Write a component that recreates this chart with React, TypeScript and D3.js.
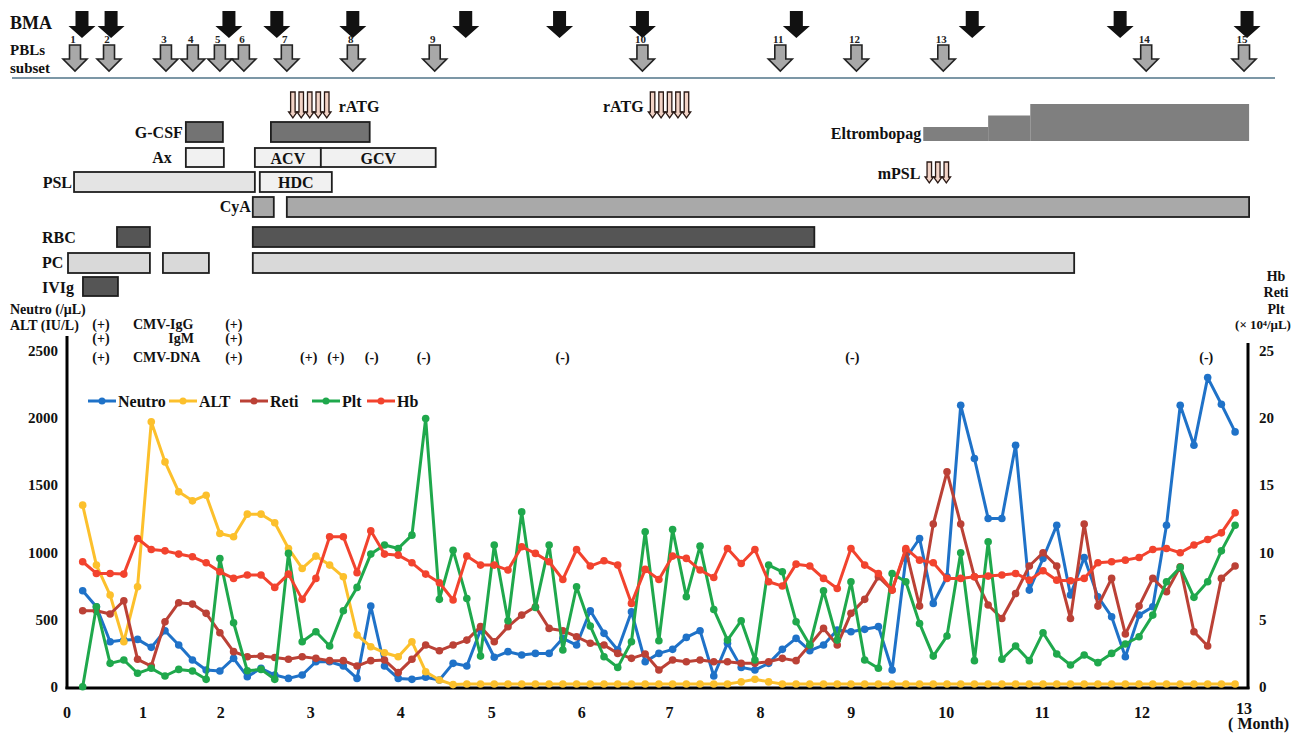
import React from 'react'
import * as d3 from 'd3'

// time axis is in "visit" units: one unit per sampling point on the chart
const monthLabels = ['0', '1', '2', '3', '4', '5', '6', '7', '8', '9', '10', '11', '12', '13']
const monthAt = [-1.14, 4.39, 10.07, 16.63, 23.18, 29.81, 36.37, 42.77, 49.4, 56.03, 62.95, 69.94, 77.22, 84.65]

// Neutro (/uL)
const neutro = [
  716, 597, 337, 349, 354, 295, 419, 312, 201, 126, 119, 213, 77, 139, 89, 64, 89, 188, 188, 156,
  64, 602, 156, 64, 57, 72, 52, 176, 156, 424, 221, 263, 238, 250, 250, 362, 312, 567, 399, 275,
  560, 188, 250, 280, 369, 419, 82, 325, 146, 126, 176, 280, 362, 270, 312, 424, 411, 429, 449, 126,
  956, 1105, 622, 820, 2096, 1700, 1254, 1254, 1799, 721, 956, 1204, 684, 964, 672, 523, 225, 535, 597, 1204,
  2096, 1799, 2302, 2104, 1898,
]
// ALT (IU/L)
const alt = [
  1353, 907, 684, 337, 746, 1973, 1675, 1452, 1385, 1427, 1142, 1118, 1286, 1286, 1222, 1031, 882, 974, 907, 820,
  387, 300, 255, 225, 337, 114, 52, 18, 22, 22, 22, 22, 22, 22, 22, 22, 22, 22, 22, 22,
  22, 22, 22, 22, 22, 22, 22, 22, 38, 58, 38, 22, 22, 22, 22, 22, 22, 22, 22, 22,
  22, 22, 22, 22, 22, 22, 22, 22, 22, 22, 22, 22, 22, 22, 22, 22, 22, 22, 22, 22,
  22, 22, 22, 22, 22,
]
// Reti (x10^4/uL)
const reti = [
  5.67, 5.67, 5.43, 6.42, 2.06, 1.56, 4.86, 6.27, 6.17, 5.48, 4.04, 2.63, 2.25, 2.3, 2.2, 2.06, 2.25, 2.13, 1.96, 1.96,
  1.56, 1.96, 2.01, 1.07, 2.06, 3.12, 2.7, 3.12, 3.49, 4.49, 3.37, 4.49, 5.35, 5.97, 4.36, 4.19, 3.74, 3.25, 3.12, 2.5,
  2.13, 2.45, 1.26, 2.01, 1.88, 2.01, 1.88, 1.88, 1.76, 1.76, 1.88, 2.13, 1.96, 3.12, 4.36, 3.12, 5.48, 6.52, 8.2, 7.21,
  10.18, 6.02, 12.12, 16.01, 12.12, 8.2, 6.1, 5.1, 6.96, 9.0, 9.99, 9.0, 5.1, 12.12, 6.02, 8.08, 3.94, 6.02, 8.08, 7.09,
  8.95, 4.11, 3.05, 8.08, 9.0,
]
// Plt (x10^4/uL)
const plt = [
  0.02, 5.97, 1.76, 2.01, 1.02, 1.39, 0.82, 1.31, 1.19, 0.57, 9.56, 4.78, 1.21, 1.31, 0.57, 9.94, 3.37, 4.11, 3.05, 5.67,
  7.41, 9.89, 10.56, 10.31, 11.3, 19.97, 6.52, 10.18, 6.59, 2.3, 10.56, 4.93, 13.03, 5.92, 10.56, 2.75, 7.46, 4.53, 2.25, 1.46,
  3.37, 11.55, 3.44, 11.72, 6.72, 10.48, 5.77, 3.49, 4.93, 2.01, 9.07, 8.57, 4.86, 3.12, 7.16, 3.49, 7.83, 2.01, 1.39, 8.45,
  7.83, 4.73, 2.3, 3.79, 9.99, 1.96, 10.8, 2.06, 3.05, 1.96, 4.04, 2.45, 1.64, 2.38, 1.81, 2.5, 3.2, 3.74, 5.35, 7.83,
  8.9, 6.67, 7.83, 10.13, 12.04,
]
// Hb (g/dL)
const hb = [
  9.32, 8.45, 8.45, 8.4, 11.05, 10.23, 10.13, 9.89, 9.69, 9.24, 8.57, 8.08, 8.33, 8.33, 7.41, 8.4, 6.52, 8.08, 11.18, 11.18,
  8.5, 11.62, 9.89, 9.81, 9.24, 8.4, 7.76, 6.47, 9.74, 9.07, 9.07, 8.7, 10.43, 9.94, 9.32, 8.0, 10.23, 9.0, 9.39, 9.07,
  6.22, 8.75, 8.0, 9.74, 9.57, 8.7, 8.15, 10.31, 9.19, 10.23, 7.83, 7.51, 9.14, 9.0, 8.08, 7.33, 10.31, 9.07, 8.45, 7.21,
  10.31, 9.44, 9.24, 8.08, 8.08, 8.2, 8.25, 8.33, 8.45, 7.95, 8.65, 7.95, 7.9, 8.08, 9.24, 9.32, 9.44, 9.64, 10.23, 10.31,
  9.99, 10.56, 10.98, 11.47, 12.96,
]

// events on the time axis
const bmaAt = [-0.05, 2.07, 10.66, 14.15, 19.69, 27.92, 34.76, 40.8, 52.02, 64.84, 75.62, 84.87]
const pblAt = [-0.56, 1.92, 6.07, 8.03, 10.0, 11.75, 14.88, 19.69, 25.66, 40.8, 50.85, 56.4, 62.73, 77.52, 84.65]

const ratgDoses1 = [15.32, 15.93, 16.55, 17.17, 17.79]
const ratgDoses2 = [41.54, 42.16, 42.78, 43.39, 44.01]
const mpslDoses = [61.71, 62.33, 62.95]

const gcsfSpans = [[7.52, 10.22], [13.72, 20.92]]
const axSpans = [[7.52, 10.29]]
const antiviralNames = ['ACV', 'GCV']
const antiviralSpans = [[12.55, 17.36], [17.36, 25.73]]
const pslSpans = [[-0.63, 12.55]]
const hdcSpans = [[12.91, 18.16]]
const cyaSpans = [[12.4, 13.93], [14.88, 85.02]]
const rbcSpans = [[2.5, 4.9], [12.4, 53.33]]
const pcSpans = [[-1.07, 4.9], [5.85, 9.2], [12.4, 72.27]]
const ivigSpans = [[0.02, 2.57]]
const eltrombopagSpans = [[61.27, 66.0], [66.0, 69.07], [69.07, 85.02]]
const eltrombopagDose = [12.5, 25, 37.5]

const cmvAt = [1.33, 11.02]
const cmvIgG = ['(+)', '(+)']
const cmvIgM = ['(+)', '(+)']
const cmvDnaAt = [1.33, 11.02, 16.48, 18.45, 21.07, 24.86, 34.98, 56.1, 81.9]
const cmvDna = ['(+)', '(+)', '(+)', '(+)', '(-)', '(-)', '(-)', '(-)', '(-)']

const FONT = "'Liberation Serif', 'Times New Roman', serif"

const x = d3.scaleLinear().domain([-1.143, 84.94]).range([67, 1248])
const yLeft = d3.scaleLinear().domain([0, 2500]).range([687, 351])
const yRight = d3.scaleLinear().domain([0, 25]).range([687, 351])
const doseH = d3.scaleLinear().domain([12.5, 37.5]).range([14, 37])

const series = [
  { name: 'Neutro', values: neutro, y: yLeft, color: '#1f72c8' },
  { name: 'ALT', values: alt, y: yLeft, color: '#fcc02c' },
  { name: 'Reti', values: reti, y: yRight, color: '#bb4136' },
  { name: 'Plt', values: plt, y: yRight, color: '#1fa84c' },
  { name: 'Hb', values: hb, y: yRight, color: '#f2432e' },
]
const legendX = [88, 169, 240, 312, 367]

function downArrow(cx: number, top: number, h: number, shaftW: number, headW: number, headH: number) {
  const p = d3.path()
  p.moveTo(cx - shaftW / 2, top)
  p.lineTo(cx + shaftW / 2, top)
  p.lineTo(cx + shaftW / 2, top + h - headH)
  p.lineTo(cx + headW / 2, top + h - headH)
  p.lineTo(cx, top + h)
  p.lineTo(cx - headW / 2, top + h - headH)
  p.lineTo(cx - shaftW / 2, top + h - headH)
  p.closePath()
  return p.toString()
}

const Bars = ({ spans, top, h, fill, stroke = '#1e1e1e' }: any) => (
  <g>
    {spans.map(([a, b]: number[], k: number) => (
      <rect key={k} x={x(a)} y={top} width={x(b) - x(a)} height={h}
        fill={fill} stroke={stroke} strokeWidth={stroke === 'none' ? 0 : 1.8} />
    ))}
  </g>
)

const Label = ({ x: lx, y: ly, anchor = 'start', size = 16, children }: any) => (
  <text x={lx} y={ly} textAnchor={anchor} fontSize={size} fontWeight="bold" fontFamily={FONT} fill="#111">
    {children}
  </text>
)

export default function App() {
  return (
    <svg width={1291} height={734} style={{ position: 'absolute', left: 0, top: 0, background: '#fff' }}>
      {/* event rows */}
      <Label x={10} y={29} size={18}>BMA</Label>
      <Label x={10} y={55} size={15}>PBLs</Label>
      <Label x={10} y={73} size={15}>subset</Label>
      {bmaAt.map((t, k) => (
        <path key={k} d={downArrow(x(t), 11, 27, 13, 27, 12)} fill="#111" />
      ))}
      {pblAt.map((t, k) => (
        <g key={k}>
          <path d={downArrow(x(t), 45, 26, 11, 24, 12)} fill="#a8a8a8" stroke="#222" strokeWidth={1.6} />
          <text x={x(t) - 2} y={43} textAnchor="middle" fontSize={11} fontWeight="bold" fontFamily={FONT} fill="#222">{k + 1}</text>
        </g>
      ))}
      <line x1={12} x2={1275} y1={78} y2={78} stroke="#7c97a6" strokeWidth={2} />

      {/* treatments */}
      {[...ratgDoses1, ...ratgDoses2].map((t, k) => (
        <path key={k} d={downArrow(x(t), 92, 26, 4.5, 8.5, 6)} fill="#f2d3c6" stroke="#2a1a16" strokeWidth={1.3} />
      ))}
      <Label x={x(ratgDoses1[4]) + 12} y={112}>rATG</Label>
      <Label x={x(ratgDoses2[0]) - 9} y={112} anchor="end">rATG</Label>
      {mpslDoses.map((t, k) => (
        <path key={k} d={downArrow(x(t), 162, 21, 4.5, 8.5, 6)} fill="#f2d3c6" stroke="#2a1a16" strokeWidth={1.3} />
      ))}
      <Label x={x(mpslDoses[0]) - 9} y={179} anchor="end">mPSL</Label>

      {eltrombopagSpans.map(([a, b], k) => (
        <rect key={k} x={x(a)} y={141 - doseH(eltrombopagDose[k])} width={x(b) - x(a)}
          height={doseH(eltrombopagDose[k])} fill="#7f7f7f" />
      ))}
      <Label x={x(eltrombopagSpans[0][0]) - 2} y={139} anchor="end">Eltrombopag</Label>

      <Bars spans={gcsfSpans} top={122} h={20} fill="#737373" />
      <Label x={x(gcsfSpans[0][0]) - 3} y={138} anchor="end">G-CSF</Label>

      <Bars spans={axSpans} top={148} h={19} fill="#f1f1f1" />
      <Label x={x(axSpans[0][0]) - 14} y={163} anchor="end">Ax</Label>
      <Bars spans={antiviralSpans} top={148} h={19} fill="#f1f1f1" />
      {antiviralSpans.map(([a, b], k) => (
        <Label key={k} x={(x(a) + x(b)) / 2} y={164} anchor="middle">{antiviralNames[k]}</Label>
      ))}

      <Bars spans={pslSpans} top={172} h={20} fill="#e4e4e4" />
      <Label x={x(pslSpans[0][0]) - 2} y={188} anchor="end">PSL</Label>
      <Bars spans={hdcSpans} top={172} h={20} fill="#f1f1f1" />
      <Label x={(x(hdcSpans[0][0]) + x(hdcSpans[0][1])) / 2} y={188} anchor="middle">HDC</Label>

      <Bars spans={cyaSpans} top={197} h={20} fill="#a9a9a9" />
      <Label x={x(cyaSpans[0][0]) - 2} y={212} anchor="end">CyA</Label>

      <Bars spans={rbcSpans} top={227} h={20} fill="#555" />
      <Label x={42} y={243}>RBC</Label>
      <Bars spans={pcSpans} top={253} h={20} fill="#d9d9d9" />
      <Label x={42} y={268}>PC</Label>
      <Bars spans={ivigSpans} top={277} h={19} fill="#555" />
      <Label x={42} y={293}>IVIg</Label>

      {/* CMV block */}
      <Label x={10} y={314} size={14}>Neutro (/μL)</Label>
      <Label x={10} y={330} size={14}>ALT (IU/L)</Label>
      <Label x={133} y={329} size={14}>CMV-IgG</Label>
      <Label x={194} y={343} size={14} anchor="end">IgM</Label>
      <Label x={133} y={362} size={14}>CMV-DNA</Label>
      {cmvAt.map((t, k) => (
        <g key={k}>
          <Label x={x(t)} y={329} size={14} anchor="middle">{cmvIgG[k]}</Label>
          <Label x={x(t)} y={343} size={14} anchor="middle">{cmvIgM[k]}</Label>
        </g>
      ))}
      {cmvDnaAt.map((t, k) => (
        <Label key={k} x={x(t)} y={362} size={14} anchor="middle">{cmvDna[k]}</Label>
      ))}
      <Label x={1276} y={281} size={14} anchor="middle">Hb</Label>
      <Label x={1276} y={297} size={14} anchor="middle">Reti</Label>
      <Label x={1276} y={314} size={14} anchor="middle">Plt</Label>
      <Label x={1263} y={329} size={13} anchor="middle">(× 10⁴/μL)</Label>

      {/* axes */}
      <line x1={x.range()[0]} x2={x.range()[0]} y1={336} y2={689} stroke="#000" strokeWidth={3} />
      <line x1={x.range()[1]} x2={x.range()[1]} y1={343} y2={689} stroke="#000" strokeWidth={3} />
      <line x1={x.range()[0] - 1.5} x2={x.range()[1] + 1.5} y1={688} y2={688} stroke="#000" strokeWidth={3} />
      {yLeft.ticks(5).map(v => (
        <Label key={v} x={58} y={yLeft(v) + 5} size={15} anchor="end">{v}</Label>
      ))}
      {yRight.ticks(5).map(v => (
        <Label key={v} x={1259} y={yRight(v) + 5} size={15}>{v}</Label>
      ))}
      {monthLabels.map((m, k) => (
        <Label key={k} x={x(monthAt[k])} y={k === monthLabels.length - 1 ? 714 : 718} anchor="middle">{m}</Label>
      ))}
      <Label x={1289} y={729} size={16} anchor="end">( Month)</Label>

      {/* series */}
      {series.map(s => {
        const line = d3.line<number>().x((_, i) => x(i)).y(v => s.y(v))
        return (
          <g key={s.name}>
            <path d={line(s.values) || ''} fill="none" stroke={s.color} strokeWidth={3} strokeLinejoin="round" />
            {s.values.map((v, i) => (
              <circle key={i} cx={x(i)} cy={s.y(v)} r={3.8} fill={s.color} />
            ))}
          </g>
        )
      })}

      {/* legend */}
      {series.map((s, k) => (
        <g key={s.name}>
          <line x1={legendX[k]} x2={legendX[k] + 28} y1={401} y2={401} stroke={s.color} strokeWidth={3} />
          <circle cx={legendX[k] + 14} cy={401} r={3.5} fill={s.color} />
          <Label x={legendX[k] + 30} y={407} size={16}>{s.name}</Label>
        </g>
      ))}
    </svg>
  )
}
